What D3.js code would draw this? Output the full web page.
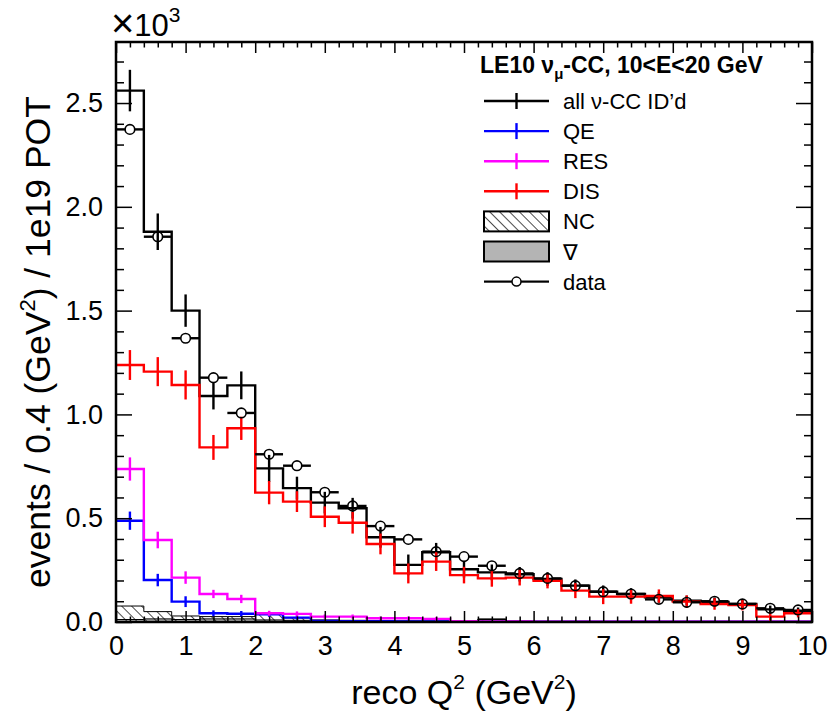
<!DOCTYPE html>
<html>
<head>
<meta charset="utf-8">
<script src="https://cdn.jsdelivr.net/npm/d3@7"></script>
<style>
  html, body { margin: 0; padding: 0; background: #fff; }
  svg { display: block; font-family: "Liberation Sans", Arial, Helvetica, sans-serif; }
</style>
</head>
<body>
<svg id="chart" width="833" height="718"></svg>
<script>
// Bin edges of reco Q^2 (GeV^2), 0.4 GeV^2 wide
const binEdges = [0.0, 0.4, 0.8, 1.2, 1.6, 2.0, 2.4, 2.8, 3.2, 3.6, 4.0, 4.4, 4.8, 5.2,
                  5.6, 6.0, 6.4, 6.8, 7.2, 7.6, 8.0, 8.4, 8.8, 9.2, 9.6, 10.0];

// Event counts per bin, in units of 10^3 events / 1e19 POT
const allCC    = [2.560, 1.880, 1.500, 1.089, 1.140, 0.740, 0.645, 0.575, 0.548, 0.408, 0.275, 0.336, 0.254,
                  0.239, 0.230, 0.207, 0.175, 0.146, 0.135, 0.119, 0.103, 0.096, 0.087, 0.061, 0.054];
const allCCErr = [0.100, 0.088, 0.078, 0.065, 0.067, 0.065, 0.055, 0.052, 0.050, 0.050, 0.050, 0.045, 0.040,
                  0.038, 0.035, 0.033, 0.030, 0.030, 0.028, 0.026, 0.024, 0.022, 0.020, 0.018, 0.016];
const qe       = [0.488, 0.202, 0.098, 0.042, 0.040, 0.037, 0.021, 0.005, 0.004, 0.004, 0.003, 0.003, 0.002,
                  0.002, 0.002, 0.001, 0.001, 0.001, 0.001, 0.001, 0.001, 0.001, 0.001, 0.001, 0.001];
const qeErr    = [0.044, 0.030, 0.026, 0.014, 0.013, 0.012, 0.010, 0.005, 0.004, 0.004, 0.003, 0.003, 0.002,
                  0.002, 0.002, 0.001, 0.001, 0.001, 0.001, 0.001, 0.001, 0.001, 0.001, 0.001, 0.001];
const res      = [0.737, 0.395, 0.214, 0.135, 0.111, 0.042, 0.039, 0.026, 0.026, 0.018, 0.018, 0.015, 0.004,
                  0.003, 0.003, 0.002, 0.002, 0.002, 0.002, 0.001, 0.001, 0.001, 0.001, 0.001, 0.001];
const resErr   = [0.056, 0.040, 0.030, 0.020, 0.020, 0.012, 0.012, 0.010, 0.010, 0.008, 0.008, 0.008, 0.004,
                  0.003, 0.003, 0.002, 0.002, 0.002, 0.002, 0.001, 0.001, 0.001, 0.001, 0.001, 0.001];
const dis      = [1.238, 1.206, 1.142, 0.841, 0.933, 0.623, 0.580, 0.507, 0.478, 0.376, 0.234, 0.291, 0.226,
                  0.210, 0.214, 0.199, 0.151, 0.122, 0.122, 0.125, 0.098, 0.087, 0.082, 0.026, 0.042];
const disErr   = [0.072, 0.070, 0.070, 0.060, 0.056, 0.056, 0.050, 0.050, 0.052, 0.050, 0.048, 0.045, 0.040,
                  0.040, 0.038, 0.037, 0.036, 0.036, 0.034, 0.032, 0.030, 0.028, 0.026, 0.020, 0.020];
const nc       = [0.077, 0.050, 0.029, 0.026, 0.026, 0.040, 0.020, 0.010, 0.008, 0.006, 0.005, 0.005, 0.004,
                  0.012, 0.004, 0.003, 0.003, 0.002, 0.002, 0.002, 0.002, 0.001, 0.001, 0.001, 0.001];
const wrongSign= [0.012, 0.015, 0.012, 0.015, 0.015, 0.010, 0.008, 0.005, 0.004, 0.004, 0.003, 0.003, 0.003,
                  0.015, 0.003, 0.002, 0.002, 0.002, 0.002, 0.001, 0.001, 0.001, 0.001, 0.001, 0.001];
const dataVals = [2.373, 1.856, 1.367, 1.177, 1.007, 0.808, 0.753, 0.625, 0.559, 0.462, 0.398, 0.339, 0.315,
                  0.271, 0.234, 0.210, 0.175, 0.146, 0.135, 0.109, 0.095, 0.100, 0.087, 0.066, 0.058];

// Axis ticks
const xMajorTicks = [0, 1, 2, 3, 4, 5, 6, 7, 8, 9, 10];
const xMinorTicks = [0.2, 0.4, 0.6, 0.8, 1.2, 1.4, 1.6, 1.8, 2.2, 2.4, 2.6, 2.8, 3.2, 3.4, 3.6, 3.8,
                     4.2, 4.4, 4.6, 4.8, 5.2, 5.4, 5.6, 5.8, 6.2, 6.4, 6.6, 6.8, 7.2, 7.4, 7.6, 7.8,
                     8.2, 8.4, 8.6, 8.8, 9.2, 9.4, 9.6, 9.8];
const yMajorTicks = [0, 0.5, 1.0, 1.5, 2.0, 2.5];
const yMinorTicks = [0.1, 0.2, 0.3, 0.4, 0.6, 0.7, 0.8, 0.9, 1.1, 1.2, 1.3, 1.4, 1.6, 1.7, 1.8, 1.9,
                     2.1, 2.2, 2.3, 2.4, 2.6, 2.7];

// Legend entries
const legendTitle = { main: "LE10 ν", sub: "μ", rest: "-CC, 10<E<20 GeV" };
const legendItems = [
  { label: "all ν-CC ID’d", kind: "line", color: "#000000" },
  { label: "QE",  kind: "line", color: "#0000ff" },
  { label: "RES", kind: "line", color: "#ff00ff" },
  { label: "DIS", kind: "line", color: "#ff0000" },
  { label: "NC",  kind: "hatch" },
  { label: "∇",   kind: "gray" },
  { label: "data", kind: "data" }
];

const svg = d3.select("#chart");
const frame = { left: 116, right: 812, top: 42, bottom: 622 };
const x = d3.scaleLinear().domain([0, 10]).range([frame.left, frame.right]);
const y = d3.scaleLinear().domain([0, 2.794]).range([frame.bottom, frame.top]);

// Hatch pattern for NC (lines running from upper left to lower right)
const defs = svg.append("defs");
const pat = defs.append("pattern")
  .attr("id", "hatchNC").attr("patternUnits", "userSpaceOnUse")
  .attr("width", 7).attr("height", 7)
  .attr("patternTransform", "rotate(-45)");
pat.append("line").attr("x1", 0).attr("y1", 0).attr("x2", 0).attr("y2", 7)
  .attr("stroke", "#000").attr("stroke-width", 1.4);

defs.append("clipPath").attr("id", "plotClip").append("rect")
  .attr("x", frame.left).attr("y", frame.top)
  .attr("width", frame.right - frame.left).attr("height", frame.bottom - frame.top);

const plot = svg.append("g").attr("clip-path", "url(#plotClip)");

function stepPoints(vals) {
  const pts = vals.map((v, i) => [binEdges[i], v]);
  pts.push([binEdges[binEdges.length - 1], vals[vals.length - 1]]);
  return pts;
}
const stepLine = d3.line().x(d => x(d[0])).y(d => y(d[1])).curve(d3.curveStepAfter);
const stepArea = d3.area().x(d => x(d[0])).y0(y(0)).y1(d => y(d[1])).curve(d3.curveStepAfter);
const centers = binEdges.slice(0, -1).map((e, i) => (e + binEdges[i + 1]) / 2);

// Wrong-sign (filled gray) and NC (hatched)
plot.append("path").datum(stepPoints(wrongSign)).attr("d", stepArea)
  .attr("fill", "#b4b4b4").attr("stroke", "none");
plot.append("path").datum(stepPoints(wrongSign)).attr("d", stepLine)
  .attr("fill", "none").attr("stroke", "#000").attr("stroke-width", 1);
plot.append("path").datum(stepPoints(nc)).attr("d", stepArea)
  .attr("fill", "url(#hatchNC)").attr("stroke", "none");
plot.append("path").datum(stepPoints(nc)).attr("d", stepLine)
  .attr("fill", "none").attr("stroke", "#000").attr("stroke-width", 1);

function drawHist(vals, errs, color) {
  const g = plot.append("g");
  g.append("path").datum(stepPoints(vals)).attr("d", stepLine)
    .attr("fill", "none").attr("stroke", color).attr("stroke-width", 2.4);
  g.selectAll("line.err").data(vals).join("line").attr("class", "err")
    .attr("x1", (d, i) => x(centers[i])).attr("x2", (d, i) => x(centers[i]))
    .attr("y1", (d, i) => y(d - errs[i])).attr("y2", (d, i) => y(d + errs[i]))
    .attr("stroke", color).attr("stroke-width", 2.4);
}
drawHist(qe, qeErr, "#0000ff");
drawHist(res, resErr, "#ff00ff");
drawHist(allCC, allCCErr, "#000000");
drawHist(dis, disErr, "#ff0000");

// Data points: open circles with horizontal bin-width bars
const r = 4.8;
const dg = plot.append("g");
dataVals.forEach((v, i) => {
  const cx = x(centers[i]), cy = y(v);
  dg.append("line").attr("x1", x(binEdges[i])).attr("x2", cx - r).attr("y1", cy).attr("y2", cy)
    .attr("stroke", "#000").attr("stroke-width", 2.4);
  dg.append("line").attr("x1", cx + r).attr("x2", x(binEdges[i + 1])).attr("y1", cy).attr("y2", cy)
    .attr("stroke", "#000").attr("stroke-width", 2.4);
  dg.append("circle").attr("cx", cx).attr("cy", cy).attr("r", r)
    .attr("fill", "none").attr("stroke", "#000").attr("stroke-width", 1.6);
});

// Axes (ticks point inward, on all four sides)
const tickFont = 27;
function styleAxis(g) {
  g.select(".domain").remove();
  g.selectAll(".tick line").attr("stroke", "#000").attr("stroke-width", 1.5);
  g.selectAll(".tick text").attr("font-size", tickFont).attr("fill", "#000")
    .attr("font-family", "Liberation Sans, Arial, sans-serif");
}
svg.append("g").attr("transform", `translate(0,${frame.bottom})`)
  .call(d3.axisBottom(x).tickValues(xMajorTicks).tickSize(-11).tickPadding(14).tickFormat(d3.format("d")))
  .call(styleAxis);
svg.append("g").attr("transform", `translate(0,${frame.bottom})`)
  .call(d3.axisBottom(x).tickValues(xMinorTicks).tickSize(-5.5).tickFormat(""))
  .call(styleAxis);
svg.append("g").attr("transform", `translate(0,${frame.top})`)
  .call(d3.axisTop(x).tickValues(xMajorTicks).tickSize(-11).tickFormat(""))
  .call(styleAxis);
svg.append("g").attr("transform", `translate(0,${frame.top})`)
  .call(d3.axisTop(x).tickValues(xMinorTicks).tickSize(-5.5).tickFormat(""))
  .call(styleAxis);
svg.append("g").attr("transform", `translate(${frame.left},0)`)
  .call(d3.axisLeft(y).tickValues(yMajorTicks).tickSize(-16).tickPadding(13).tickFormat(d3.format(".1f")))
  .call(styleAxis);
svg.append("g").attr("transform", `translate(${frame.left},0)`)
  .call(d3.axisLeft(y).tickValues(yMinorTicks).tickSize(-8).tickFormat(""))
  .call(styleAxis);
svg.append("g").attr("transform", `translate(${frame.right},0)`)
  .call(d3.axisRight(y).tickValues(yMajorTicks).tickSize(-16).tickFormat(""))
  .call(styleAxis);
svg.append("g").attr("transform", `translate(${frame.right},0)`)
  .call(d3.axisRight(y).tickValues(yMinorTicks).tickSize(-8).tickFormat(""))
  .call(styleAxis);

// Frame
svg.append("rect").attr("x", frame.left).attr("y", frame.top)
  .attr("width", frame.right - frame.left).attr("height", frame.bottom - frame.top)
  .attr("fill", "none").attr("stroke", "#000").attr("stroke-width", 2.5);

// Exponent label
const expo = svg.append("text").attr("x", 111).attr("y", 36).attr("font-size", 31);
expo.append("tspan").attr("font-size", 40).attr("font-weight", 300).attr("dy", 1).text("×");
expo.append("tspan").attr("dy", -1).text("10");
expo.append("tspan").attr("font-size", 21).attr("dy", -14).text("3");

// Axis titles
const xt = svg.append("text").attr("x", 464).attr("y", 704).attr("text-anchor", "middle").attr("font-size", 34);
xt.append("tspan").text("reco Q");
xt.append("tspan").attr("font-size", 21).attr("dy", -15).text("2");
xt.append("tspan").attr("dy", 15).text(" (GeV");
xt.append("tspan").attr("font-size", 21).attr("dy", -15).text("2");
xt.append("tspan").attr("dy", 15).text(")");

const yt = svg.append("text").attr("transform", "translate(50,342) rotate(-90)")
  .attr("text-anchor", "middle").attr("font-size", 35.5);
yt.append("tspan").text("events / 0.4 (GeV");
yt.append("tspan").attr("font-size", 22).attr("dy", -15).text("2");
yt.append("tspan").attr("dy", 15).text(") / 1e19 POT");

// Legend
const lg = svg.append("g");
const lt = lg.append("text").attr("x", 480).attr("y", 73).attr("font-size", 23).attr("font-weight", "bold");
lt.append("tspan").text(legendTitle.main);
lt.append("tspan").attr("font-size", 15).attr("dy", 6).text(legendTitle.sub);
lt.append("tspan").attr("dy", -6).text(legendTitle.rest);

const rowY0 = 101, rowStep = 30.1;
const lx1 = 484, lx2 = 549, lxm = 516.5, labelX = 563;
legendItems.forEach((it, i) => {
  const cy = rowY0 + i * rowStep;
  if (it.kind === "line") {
    lg.append("line").attr("x1", lx1).attr("x2", lx2).attr("y1", cy).attr("y2", cy)
      .attr("stroke", it.color).attr("stroke-width", 2.4);
    lg.append("line").attr("x1", lxm).attr("x2", lxm).attr("y1", cy - 8).attr("y2", cy + 8)
      .attr("stroke", it.color).attr("stroke-width", 2.4);
  } else if (it.kind === "hatch") {
    lg.append("rect").attr("x", lx1).attr("y", cy - 10).attr("width", lx2 - lx1).attr("height", 20)
      .attr("fill", "url(#hatchNC)").attr("stroke", "#000").attr("stroke-width", 2);
  } else if (it.kind === "gray") {
    lg.append("rect").attr("x", lx1).attr("y", cy - 10).attr("width", lx2 - lx1).attr("height", 20)
      .attr("fill", "#b4b4b4").attr("stroke", "#000").attr("stroke-width", 2);
  } else if (it.kind === "data") {
    lg.append("line").attr("x1", lx1).attr("x2", lxm - 4.5).attr("y1", cy).attr("y2", cy)
      .attr("stroke", "#000").attr("stroke-width", 2.2);
    lg.append("line").attr("x1", lxm + 4.5).attr("x2", lx2).attr("y1", cy).attr("y2", cy)
      .attr("stroke", "#000").attr("stroke-width", 2.2);
    lg.append("circle").attr("cx", lxm).attr("cy", cy).attr("r", 4.5)
      .attr("fill", "none").attr("stroke", "#000").attr("stroke-width", 1.5);
  }
  lg.append("text").attr("x", labelX).attr("y", cy + 8).attr("font-size", 22).text(it.label);
});
</script>
</body>
</html>
